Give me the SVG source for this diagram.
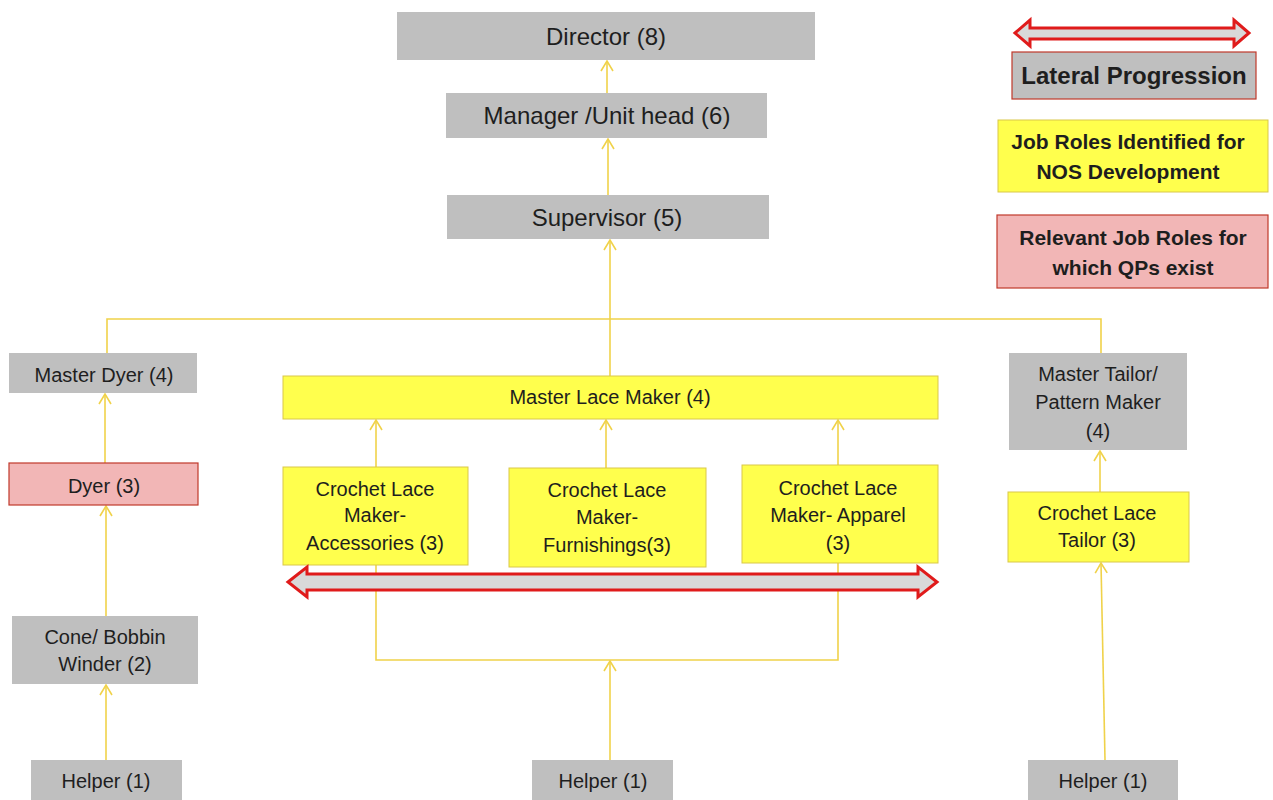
<svg xmlns="http://www.w3.org/2000/svg" width="1273" height="800" viewBox="0 0 1273 800">
<style>
text{font-family:"Liberation Sans",Arial,sans-serif;font-size:20px;fill:#1e1e1e;text-anchor:middle}
.t{font-size:24px}
.g{fill:#BFBFBF}
.y{fill:#FFFF4D;stroke:#D9C84A;stroke-width:1}
.p{fill:#F2B6B6;stroke:#C0392B;stroke-width:1.2}
.lg{fill:#BFBFBF;stroke:#C0392B;stroke-width:1.2}
.b{font-weight:bold;font-size:21px}
.bl{font-weight:bold;font-size:24px}
.c{fill:none;stroke:#F0D24A;stroke-width:1.6}
.dbl{fill:#D9D9D9;stroke:#E01B1B;stroke-width:3;stroke-linejoin:miter}
</style>
<defs>
<marker id="ah" viewBox="0 0 12 14" refX="11" refY="7" markerWidth="12" markerHeight="14" markerUnits="userSpaceOnUse" orient="auto">
<path d="M1,1 L11,7 L1,13" fill="none" stroke="#F0D24A" stroke-width="1.6"/>
</marker>
</defs>
<rect width="1273" height="800" fill="#fff"/>
<g id="connectors">
<line class="c" x1="607" y1="93" x2="607" y2="61" marker-end="url(#ah)"/>
<line class="c" x1="608" y1="195" x2="608" y2="139" marker-end="url(#ah)"/>
<line class="c" x1="610" y1="376" x2="610" y2="240" marker-end="url(#ah)"/>
<polyline class="c" points="107,353 107,319 1101,319 1101,353"/>
<line class="c" x1="105" y1="463" x2="105" y2="394" marker-end="url(#ah)"/>
<line class="c" x1="106" y1="616" x2="106" y2="506" marker-end="url(#ah)"/>
<line class="c" x1="106" y1="760" x2="106" y2="685" marker-end="url(#ah)"/>
<line class="c" x1="376" y1="467" x2="376" y2="420" marker-end="url(#ah)"/>
<line class="c" x1="606" y1="468" x2="606" y2="420" marker-end="url(#ah)"/>
<line class="c" x1="838" y1="465" x2="838" y2="420" marker-end="url(#ah)"/>
<polyline class="c" points="376,565 376,660 838,660 838,563"/>
<line class="c" x1="610" y1="760" x2="610" y2="661" marker-end="url(#ah)"/>
<line class="c" x1="1100" y1="492" x2="1100" y2="451" marker-end="url(#ah)"/>
<line class="c" x1="1105" y1="760" x2="1101" y2="563" marker-end="url(#ah)"/>
</g>
<g id="director"><rect class="g" x="397" y="12" width="418" height="48"/><text class="t" x="606" y="45">Director (8)</text></g>
<g id="manager"><rect class="g" x="446" y="93" width="321" height="45"/><text class="t" x="607" y="124">Manager /Unit head  (6)</text></g>
<g id="supervisor"><rect class="g" x="447" y="195" width="322" height="44"/><text class="t" x="607" y="226">Supervisor (5)</text></g>
<g id="master-dyer"><rect class="g" x="9" y="353" width="188" height="40"/><text x="104" y="382">Master Dyer (4)</text></g>
<g id="master-lace-maker"><rect class="y" x="283" y="376" width="655" height="43"/><text x="610" y="404">Master Lace Maker (4)</text></g>
<g id="dyer"><rect class="p" x="9" y="463" width="189" height="42"/><text x="104" y="493">Dyer (3)</text></g>
<g id="accessories"><rect class="y" x="283" y="467" width="185" height="98"/><text x="375" y="496">Crochet Lace</text><text x="375" y="522">Maker-</text><text x="375" y="550">Accessories (3)</text></g>
<g id="furnishings"><rect class="y" x="509" y="468" width="197" height="99"/><text x="607" y="497">Crochet Lace</text><text x="607" y="524">Maker-</text><text x="607" y="552">Furnishings(3)</text></g>
<g id="apparel"><rect class="y" x="742" y="465" width="196" height="98"/><text x="838" y="495">Crochet Lace</text><text x="838" y="522">Maker- Apparel</text><text x="838" y="550">(3)</text></g>
<g id="lateral-arrow"><polygon class="dbl" points="288,582 307,567 307,574 918,574 918,567 937,582 918,597 918,590 307,590 307,597"/></g>
<g id="cone-bobbin"><rect class="g" x="12" y="616" width="186" height="68"/><text x="105" y="644">Cone/ Bobbin</text><text x="105" y="671">Winder (2)</text></g>
<g id="helper-left"><rect class="g" x="31" y="760" width="151" height="40"/><text x="106" y="788">Helper (1)</text></g>
<g id="helper-center"><rect class="g" x="532" y="760" width="141" height="40"/><text x="603" y="788">Helper (1)</text></g>
<g id="master-tailor"><rect class="g" x="1009" y="353" width="178" height="97"/><text x="1098" y="381">Master Tailor/</text><text x="1098" y="409">Pattern Maker</text><text x="1098" y="438">(4)</text></g>
<g id="crochet-tailor"><rect class="y" x="1008" y="492" width="181" height="70"/><text x="1097" y="520">Crochet Lace</text><text x="1097" y="547">Tailor (3)</text></g>
<g id="helper-right"><rect class="g" x="1028" y="760" width="150" height="40"/><text x="1103" y="788">Helper (1)</text></g>
<g id="legend">
<polygon class="dbl" points="1015,33 1030,20 1030,28 1234,28 1234,20 1249,33 1234,46 1234,39 1030,39 1030,46"/>
<rect class="lg" x="1012" y="52" width="244" height="47"/><text class="bl" x="1134" y="84">Lateral Progression</text>
<rect class="y" x="998" y="120" width="270" height="72"/><text class="b" x="1128" y="149">Job Roles Identified  for</text><text class="b" x="1128" y="179">NOS Development</text>
<rect class="p" x="997" y="215" width="271" height="73"/><text class="b" x="1133" y="245">Relevant Job Roles for</text><text class="b" x="1133" y="275">which  QPs exist</text>
</g>
</svg>
